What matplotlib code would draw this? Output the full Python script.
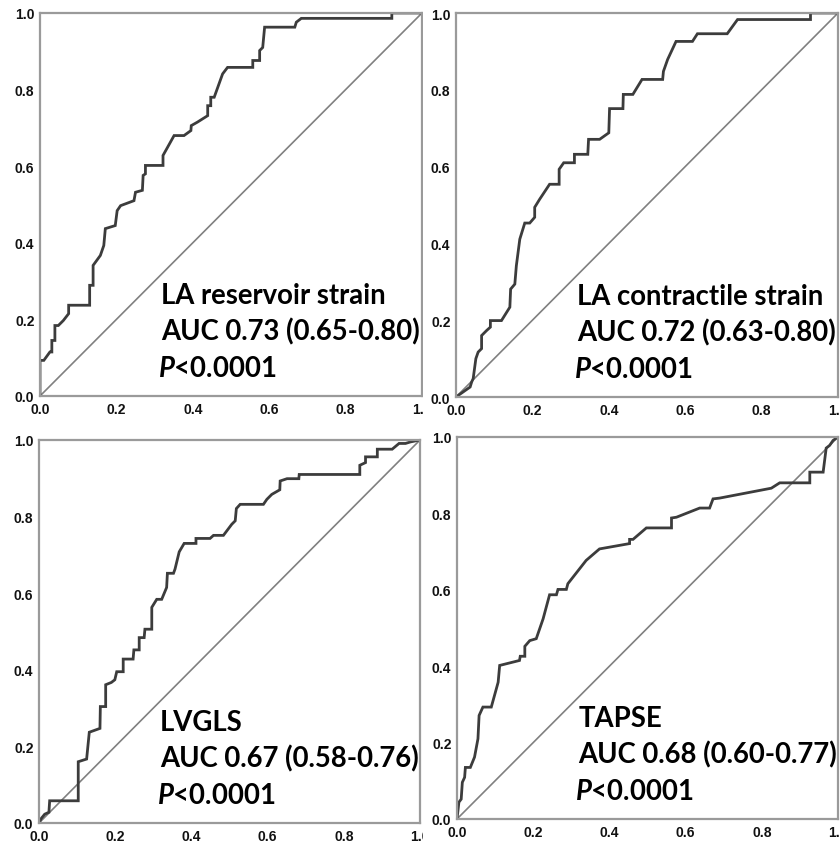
import matplotlib
matplotlib.use("Agg")
import matplotlib.pyplot as plt
from matplotlib.patches import Rectangle

plt.rcParams['mathtext.fontset'] = 'custom'
plt.rcParams['mathtext.it'] = 'Lato:italic:bold'
plt.rcParams['mathtext.rm'] = 'Lato:bold'

# ROC curves: (1 - specificity, sensitivity)
la_res_fpr = [0, 0, 0.01, 0.026, 0.031, 0.031, 0.039, 0.039, 0.048, 0.061, 0.075, 0.075, 0.130, 0.130,
              0.139, 0.139, 0.158, 0.167, 0.171, 0.197, 0.202, 0.211, 0.246, 0.25, 0.268, 0.270, 0.276,
              0.276, 0.322, 0.322, 0.351, 0.377, 0.395, 0.396, 0.412, 0.439, 0.439, 0.447, 0.447, 0.456,
              0.478, 0.491, 0.557, 0.557, 0.575, 0.575, 0.583, 0.588, 0.667, 0.671, 0.684, 0.921, 0.921, 1]
la_res_tpr = [0, 0.093, 0.093, 0.115, 0.115, 0.145, 0.145, 0.184, 0.184, 0.197, 0.215, 0.237, 0.237, 0.289,
              0.289, 0.341, 0.367, 0.393, 0.437, 0.445, 0.484, 0.497, 0.510, 0.532, 0.537, 0.576, 0.580,
              0.602, 0.602, 0.628, 0.680, 0.680, 0.693, 0.706, 0.715, 0.732, 0.758, 0.758, 0.780, 0.780,
              0.841, 0.858, 0.858, 0.876, 0.876, 0.902, 0.910, 0.963, 0.963, 0.976, 0.986, 0.986, 1.0, 1]

la_con_fpr = [0, 0.037, 0.041, 0.045, 0.052, 0.058, 0.067, 0.067, 0.080, 0.090, 0.090, 0.119, 0.141, 0.143,
              0.154, 0.158, 0.167, 0.180, 0.193, 0.206, 0.206, 0.219, 0.245, 0.270, 0.270, 0.282, 0.310,
              0.310, 0.345, 0.347, 0.376, 0.400, 0.402, 0.437, 0.438, 0.463, 0.487, 0.541, 0.543, 0.554,
              0.576, 0.619, 0.632, 0.710, 0.737, 0.928, 0.928, 1]
la_con_tpr = [0, 0.026, 0.039, 0.048, 0.100, 0.117, 0.126, 0.160, 0.173, 0.182, 0.199, 0.199, 0.234, 0.281,
              0.294, 0.342, 0.411, 0.453, 0.453, 0.468, 0.494, 0.515, 0.554, 0.554, 0.593, 0.610, 0.610,
              0.632, 0.632, 0.671, 0.671, 0.688, 0.751, 0.751, 0.788, 0.788, 0.827, 0.827, 0.848, 0.879,
              0.926, 0.926, 0.946, 0.946, 0.983, 0.983, 1.0, 1]

lvgls_fpr = [0, 0.006, 0.015, 0.026, 0.028, 0.103, 0.103, 0.125, 0.132, 0.160, 0.161, 0.175, 0.175, 0.190,
             0.199, 0.204, 0.221, 0.221, 0.247, 0.249, 0.263, 0.263, 0.276, 0.278, 0.296, 0.296, 0.309,
             0.322, 0.335, 0.337, 0.353, 0.357, 0.368, 0.381, 0.412, 0.412, 0.449, 0.458, 0.484, 0.506,
             0.515, 0.518, 0.528, 0.589, 0.598, 0.611, 0.632, 0.633, 0.651, 0.682, 0.683, 0.842, 0.842,
             0.857, 0.857, 0.888, 0.888, 0.927, 0.945, 0.962, 0.975, 1]
lvgls_tpr = [0, 0.012, 0.023, 0.028, 0.058, 0.058, 0.160, 0.167, 0.237, 0.247, 0.304, 0.304, 0.361, 0.367,
             0.374, 0.395, 0.395, 0.428, 0.428, 0.452, 0.452, 0.484, 0.484, 0.506, 0.506, 0.563, 0.584,
             0.584, 0.615, 0.652, 0.652, 0.663, 0.708, 0.730, 0.730, 0.743, 0.743, 0.751, 0.751, 0.780,
             0.789, 0.821, 0.832, 0.832, 0.845, 0.858, 0.870, 0.893, 0.899, 0.899, 0.910, 0.910, 0.934,
             0.941, 0.956, 0.956, 0.976, 0.976, 0.991, 0.991, 0.995, 1]

tapse_fpr = [0, 0.005, 0.011, 0.014, 0.020, 0.022, 0.035, 0.046, 0.055, 0.058, 0.068, 0.090, 0.108, 0.112,
             0.164, 0.166, 0.178, 0.178, 0.191, 0.208, 0.226, 0.243, 0.261, 0.265, 0.287, 0.291, 0.339,
             0.374, 0.453, 0.453, 0.462, 0.497, 0.563, 0.563, 0.576, 0.637, 0.663, 0.672, 0.689, 0.825,
             0.847, 0.926, 0.926, 0.961, 0.969, 0.978, 0.987, 1]
tapse_tpr = [0, 0.044, 0.052, 0.096, 0.109, 0.135, 0.135, 0.162, 0.210, 0.271, 0.293, 0.293, 0.358, 0.402,
             0.415, 0.426, 0.426, 0.452, 0.467, 0.472, 0.524, 0.587, 0.587, 0.601, 0.601, 0.616, 0.677,
             0.707, 0.721, 0.732, 0.732, 0.762, 0.762, 0.788, 0.790, 0.814, 0.814, 0.838, 0.840, 0.866,
             0.880, 0.880, 0.908, 0.908, 0.971, 0.978, 0.991, 1]

names = ['LA reservoir strain', 'LA contractile strain', 'LVGLS', 'TAPSE']
auc_text = ['AUC 0.73 (0.65-0.80)', 'AUC 0.72 (0.63-0.80)', 'AUC 0.67 (0.58-0.76)', 'AUC 0.68 (0.60-0.77)']
curves = [(la_res_fpr, la_res_tpr), (la_con_fpr, la_con_tpr), (lvgls_fpr, lvgls_tpr), (tapse_fpr, tapse_tpr)]
ticks = [0, 0.2, 0.4, 0.6, 0.8, 1.0]

W, H = 840, 845
fig = plt.figure(figsize=(W / 100, H / 100), dpi=100)

# axes boxes in pixels: left, top, right, bottom
boxes = [(40, 14, 422, 397), (456, 14, 838, 398), (39, 441, 420, 824), (457, 438, 838, 820)]
zs = [0, 2, 0, 2]

# white sheet so the right panels cover the left panels' last tick label
fig.patches.append(Rectangle((423 / W, 0), 1, 1, transform=fig.transFigure,
                             facecolor='white', edgecolor='none', zorder=1))

fs = 19.8
for i in range(4):
    l, t, r, b = boxes[i]
    ax = fig.add_axes([l / W, (H - b) / H, (r - l) / W, (b - t) / H], zorder=zs[i])
    fpr, tpr = curves[i]
    ax.plot([0, 1], [0, 1], color='#808080', lw=1.2, zorder=1)
    ax.plot(fpr, tpr, color='#3c3c3c', lw=2.0, zorder=2, solid_joinstyle='miter')
    ax.set_xlim(0, 1)
    ax.set_ylim(0, 1)
    ax.set_xticks(ticks)
    ax.set_yticks(ticks)
    ax.set_xticklabels(['%.1f' % v for v in ticks])
    ax.set_yticklabels(['%.1f' % v for v in ticks])
    ax.tick_params(length=0, pad=4)
    for lab in ax.get_xticklabels() + ax.get_yticklabels():
        lab.set_fontfamily('Liberation Sans')
        lab.set_fontweight('bold')
        lab.set_fontsize(10)
        lab.set_color('#111111')
    for s in ax.spines.values():
        s.set_color('#9a9a9a')
        s.set_linewidth(1.6)
    ax.text(0.318, 0.243, names[i], transform=ax.transAxes, fontsize=fs, family='Lato',
            fontweight='bold', va='baseline', ha='left', clip_on=False)
    ax.text(0.318, 0.147, auc_text[i], transform=ax.transAxes, fontsize=fs, family='Lato',
            fontweight='bold', va='baseline', ha='left', clip_on=False)
    ax.text(0.31, 0.053, r'$\mathit{P}$<0.0001', transform=ax.transAxes, fontsize=fs,
            family='Lato', fontweight='bold', va='baseline', ha='left')

fig.savefig('out.png', dpi=100)
